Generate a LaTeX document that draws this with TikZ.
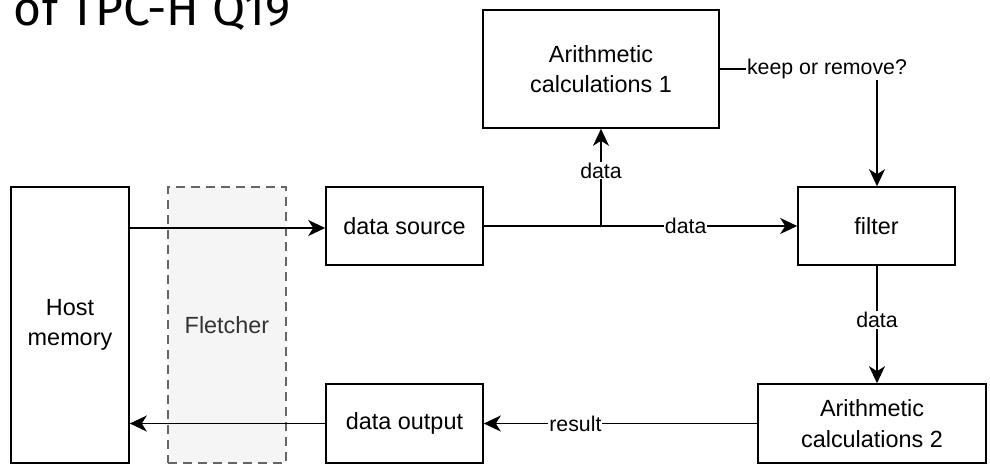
\documentclass[tikz,border=0pt]{standalone}
\usepackage{fontspec}
\setmainfont{Liberation Sans}
\newfontfamily\titlefont{Fira Sans}
\usetikzlibrary{arrows.meta}
\definecolor{flfill}{HTML}{F5F5F5}
\definecolor{fldraw}{HTML}{666666}
\definecolor{fltext}{HTML}{333333}
\tikzset{
  >={Stealth[length=17pt,width=16pt,inset=5pt]},
  box/.style={draw=black, line width=1.6pt, fill=white, align=center, inner sep=0pt,
    font=\fontsize{23.4}{30.5}\selectfont},
  arr/.style={line width=1.6pt, ->},
  ln/.style={line width=1.6pt},
  lbl/.style={fill=white, inner sep=1pt, font=\fontsize{21.3}{25}\selectfont}
}
\begin{document}
\begin{tikzpicture}[x=1pt,y=-1pt]
\useasboundingbox (0,0) rectangle (990,464);
\node[anchor=base east, inner sep=0pt, font=\titlefont\fontsize{48}{48}\selectfont] (title) at (291,25) {of TPC-H Q19};
\node[box, minimum width=118pt, minimum height=276pt] (host) at (70,325) {Host\\memory};
\node[draw=fldraw, fill=flfill, line width=1.6pt, dash pattern=on 9pt off 6pt, minimum width=118pt, minimum height=276pt, text=fltext, font=\fontsize{23.4}{30.5}\selectfont] (fl) at (227,325) {Fletcher};
\node[box, minimum width=157pt, minimum height=78pt] (src) at (404.5,226) {data source};
\node[box, minimum width=157pt, minimum height=79pt] (out) at (404.5,423.5) {data output};
\node[box, minimum width=236pt, minimum height=118pt] (ar1) at (601,69) {Arithmetic\\calculations 1};
\node[box, minimum width=157pt, minimum height=78pt] (filt) at (876.5,226) {filter};
\node[box, minimum width=228pt, minimum height=79pt] (ar2) at (872,423.5) {Arithmetic\\calculations 2};
\coordinate (br) at (601,226);
\coordinate (kc) at (877,69);
\draw[arr] (host.east |- 0,228) -- (src.west |- 0,228);
\draw[arr] (src.east) -- node[lbl, pos=0.644] (l1) {data} (filt.west);
\draw[arr] (br) -- node[lbl, pos=0.57] (l2) {data} (ar1.south);
\draw[ln] (ar1.east) -- (kc);
\draw[arr] (kc) -- (filt.north -| kc);
\node[lbl] (l3) at (827,69) {keep or remove?};
\draw[arr] (filt.south -| kc) -- node[lbl, pos=0.46] (l4) {data} (ar2.north -| kc);
\draw[arr] (ar2.west) -- node[lbl, pos=0.665] (l5) {result} (out.east);
\draw[arr] (out.west) -- (host.east |- out.west);
\end{tikzpicture}
\end{document}
